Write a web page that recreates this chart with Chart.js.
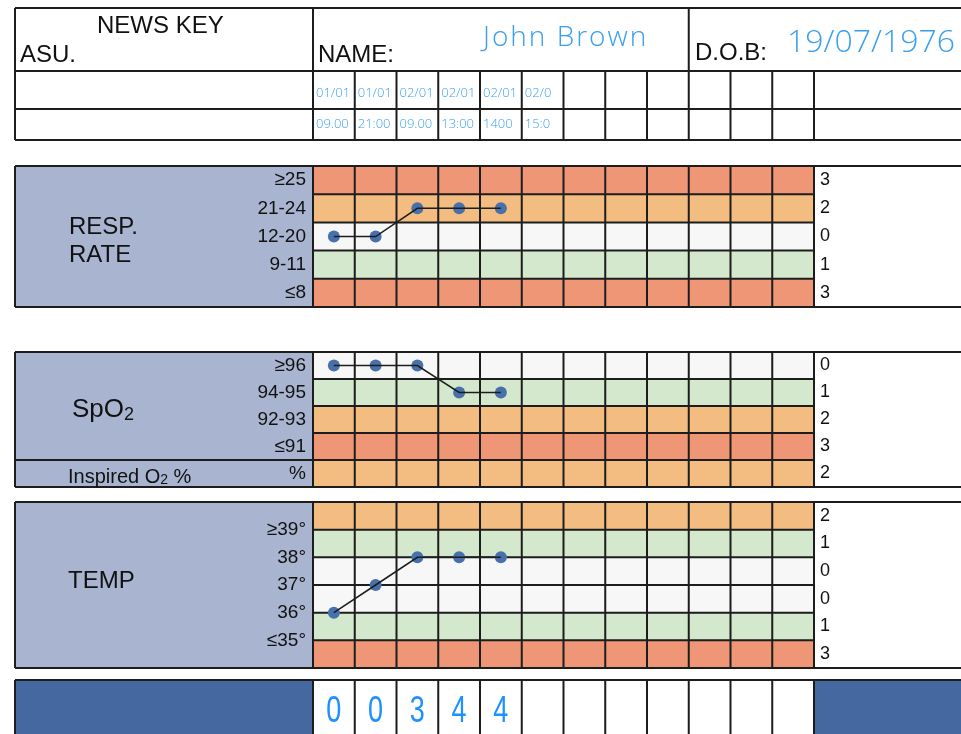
<!DOCTYPE html>
<html>
<head>
<meta charset="utf-8">
<title>NEWS observation chart</title>
<script src="https://cdn.jsdelivr.net/npm/chart.js@4.4.1/dist/chart.umd.min.js"></script>
<style>
  html, body { margin: 0; padding: 0; background: #fff; }
  body { width: 961px; height: 734px; position: relative; overflow: hidden; }
  canvas { position: absolute; left: 0; }
</style>
</head>
<body>
<canvas id="headerChart" width="961" height="145" style="top:0px"></canvas>
<canvas id="respChart" width="961" height="145" style="top:164px"></canvas>
<canvas id="spo2Chart" width="961" height="139" style="top:350px"></canvas>
<canvas id="tempChart" width="961" height="170" style="top:500px"></canvas>
<canvas id="totalChart" width="961" height="56" style="top:678px"></canvas>
<script>
// Patient details
const patientName = 'John Brown';
const patientDob = '19/07/1976';

// Observation slots (12 columns on the form)
const obsDates = ['01/01', '01/01', '02/01', '02/01', '02/01', '02/0', '', '', '', '', '', ''];
const obsTimes = ['09.00', '21:00', '09.00', '13:00', '1400', '15:0', '', '', '', '', '', ''];

// Respiration rate
const respBands = ['≥25', '21-24', '12-20', '9-11', '≤8'];
const respScores = ['3', '2', '0', '1', '3'];
const respValues = ['12-20', '12-20', '21-24', '21-24', '21-24'];

// SpO2
const spo2Bands = ['≥96', '94-95', '92-93', '≤91', '%'];
const spo2Scores = ['0', '1', '2', '3', '2'];
const spo2Values = ['≥96', '≥96', '≥96', '94-95', '94-95'];

// Temperature
const tempTicks = [39, 38, 37, 36, 35];
const tempTickLabels = ['≥39°', '38°', '37°', '36°', '≤35°'];
const tempScores = ['2', '1', '0', '0', '1', '3'];
const tempValues = [36, 37, 38, 38, 38];

// Total score per observation
const newsTotals = [0, 0, 3, 4, 4];

// Colours
const RED = '#ef9677';
const ORANGE = '#f3bc80';
const WHITE = '#f7f7f7';
const GREEN = '#d3e8cd';
const PANEL = '#a9b5d0';
const DARK = '#4668a1';
const LINE = '#1d1d1d';
const DOT = '#4870aa';
const INK = '#3a9fef';
const TOTAL_INK = '#1e90ff';

const SANS = "'Liberation Sans', Arial, sans-serif";
const HAND = "'Open Sans', Lato, sans-serif";
const FRAME_LEFT = 15;

Chart.defaults.font.family = SANS;
Chart.defaults.color = '#111';

// Draw text made of several runs (used for subscripts)
function drawRich(ctx, x, y, parts) {
    parts.forEach(([text, size, dy]) => {
        ctx.font = size + 'px ' + SANS;
        ctx.fillText(text, x, y + (dy || 0));
        x += ctx.measureText(text).width;
    });
}

function strokeLines(ctx, segs) {
    ctx.strokeStyle = LINE;
    ctx.lineWidth = 2;
    ctx.beginPath();
    segs.forEach(([x1, y1, x2, y2]) => { ctx.moveTo(x1, y1); ctx.lineTo(x2, y2); });
    ctx.stroke();
}

// Coloured rows, grid and label panel of a section
const formGrid = {
    id: 'formGrid',
    beforeDraw(chart, args, opts) {
        if (!opts.colors) return;
        const { ctx, chartArea: a, width } = chart;
        const n = opts.colors.length;
        const rowH = (a.bottom - a.top) / n;
        const colW = (a.right - a.left) / obsDates.length;
        ctx.save();
        ctx.fillStyle = PANEL;
        ctx.fillRect(FRAME_LEFT, a.top, a.left - FRAME_LEFT, a.bottom - a.top);
        ctx.fillStyle = '#fff';
        ctx.fillRect(a.right, a.top, width - a.right, a.bottom - a.top);
        opts.colors.forEach((c, i) => {
            ctx.fillStyle = c;
            ctx.fillRect(a.left, a.top + i * rowH, a.right - a.left, rowH);
        });
        const segs = [];
        for (let i = 1; i < n; i++) segs.push([a.left, a.top + i * rowH, a.right, a.top + i * rowH]);
        for (let j = 0; j <= obsDates.length; j++) segs.push([a.left + j * colW, a.top, a.left + j * colW, a.bottom]);
        segs.push([FRAME_LEFT, a.top, width, a.top]);
        segs.push([FRAME_LEFT, a.bottom, width, a.bottom]);
        segs.push([FRAME_LEFT, a.top, FRAME_LEFT, a.bottom]);
        if (opts.splitRow) segs.push([FRAME_LEFT, a.top + opts.splitRow * rowH, a.left, a.top + opts.splitRow * rowH]);
        strokeLines(ctx, segs);
        ctx.fillStyle = '#111';
        ctx.textBaseline = 'alphabetic';
        ctx.textAlign = 'left';
        opts.titles.forEach(t => drawRich(ctx, t.x, a.top + t.y, t.parts));
        ctx.restore();
    }
};

// Header block: patient details, dates and times
const headerFrame = {
    id: 'headerFrame',
    beforeDraw(chart) {
        const { ctx, chartArea: a, width, scales: { x } } = chart;
        const colW = (a.right - a.left) / obsDates.length;
        const segs = [
            [FRAME_LEFT, a.top, width, a.top],
            [FRAME_LEFT, 71, width, 71],
            [FRAME_LEFT, 109, width, 109],
            [FRAME_LEFT, a.bottom, width, a.bottom],
            [FRAME_LEFT, a.top, FRAME_LEFT, a.bottom],
            [a.left, a.top, a.left, a.bottom],
            [a.left + 9 * colW, a.top, a.left + 9 * colW, 71]
        ];
        for (let j = 1; j <= obsDates.length; j++) segs.push([a.left + j * colW, 71, a.left + j * colW, a.bottom]);
        ctx.save();
        strokeLines(ctx, segs);
        ctx.fillStyle = '#111';
        ctx.textAlign = 'left';
        ctx.font = '24px ' + SANS;
        ctx.fillText('NEWS KEY', 97, 33);
        ctx.fillText('ASU.', 20, 62);
        ctx.fillText('NAME:', 318, 62);
        ctx.fillText('D.O.B:', 695, 60);
        ctx.fillStyle = INK;
        ctx.font = '300 28px ' + HAND;
        ctx.letterSpacing = '2px';
        ctx.fillText(patientName, 483, 46);
        ctx.letterSpacing = '0px';
        ctx.font = '300 32px ' + HAND;
        ctx.fillText(patientDob, 787, 52);
        ctx.font = '300 13px ' + HAND;
        obsDates.forEach((d, i) => ctx.fillText(d, x.getPixelForValue(i) - colW / 2 + 3, 97));
        obsTimes.forEach((t, i) => ctx.fillText(t, x.getPixelForValue(i) - colW / 2 + 3, 128));
        ctx.restore();
    }
};

// Bottom row with the total score per observation
const totalRow = {
    id: 'totalRow',
    beforeDraw(chart) {
        const { ctx, chartArea: a, width, scales: { x } } = chart;
        const colW = (a.right - a.left) / obsDates.length;
        ctx.save();
        ctx.fillStyle = DARK;
        ctx.fillRect(FRAME_LEFT, a.top, a.left - FRAME_LEFT, a.bottom - a.top);
        ctx.fillRect(a.right, a.top, width - a.right, a.bottom - a.top);
        const segs = [[FRAME_LEFT, a.top, width, a.top], [FRAME_LEFT, a.top, FRAME_LEFT, a.bottom]];
        for (let j = 0; j <= obsDates.length; j++) segs.push([a.left + j * colW, a.top, a.left + j * colW, a.bottom]);
        strokeLines(ctx, segs);
        ctx.fillStyle = TOTAL_INK;
        ctx.textAlign = 'center';
        ctx.font = '36px ' + SANS;
        newsTotals.forEach((v, i) => {
            ctx.save();
            ctx.translate(x.getPixelForValue(i), a.top + 42);
            ctx.scale(0.75, 1);
            ctx.fillText(String(v), 0, 0);
            ctx.restore();
        });
        ctx.restore();
    }
};

Chart.register(formGrid);

function traceDatasets(values) {
    return [
        { data: values, borderColor: LINE, borderWidth: 1.5, pointRadius: 0, tension: 0, order: 1 },
        { data: values, showLine: false, pointRadius: 6, pointHoverRadius: 6, pointBackgroundColor: DOT, pointBorderWidth: 0, order: 2 }
    ];
}

// Fixed axis widths so every section shares the same columns
function fixWidth(w) {
    return s => { s.width = w; s.paddingTop = 0; s.paddingBottom = 0; };
}

const hiddenGrid = { display: false, drawTicks: false, tickLength: 0 };

function scoreAxis(labels) {
    return {
        type: 'category', position: 'right', labels: labels, offset: true,
        grid: hiddenGrid, border: { display: false },
        ticks: { padding: 6, autoSkip: false, font: { size: 18 }, color: '#111' },
        afterFit: fixWidth(147)
    };
}

function sectionChart(id, values, yAxis, scores, grid) {
    return new Chart(document.getElementById(id), {
        type: 'line',
        data: { labels: obsDates, datasets: traceDatasets(values) },
        options: {
            responsive: false,
            animation: false,
            layout: { autoPadding: false, padding: { left: FRAME_LEFT, right: 0, top: 2, bottom: 2 } },
            plugins: { legend: { display: false }, tooltip: { enabled: false }, formGrid: grid },
            scales: {
                x: { type: 'category', offset: true, display: false },
                y: yAxis,
                score: scoreAxis(scores)
            }
        }
    });
}

function stripOptions(padding) {
    return {
        responsive: false,
        animation: false,
        layout: { autoPadding: false, padding: padding },
        plugins: { legend: { display: false }, tooltip: { enabled: false } },
        scales: {
            x: { type: 'category', offset: true, display: false },
            y: { display: false }
        }
    };
}

// Header
new Chart(document.getElementById('headerChart'), {
    type: 'line',
    data: { labels: obsDates, datasets: [] },
    options: stripOptions({ left: 313, right: 147, top: 8, bottom: 5 }),
    plugins: [headerFrame]
});

// Respiration rate
sectionChart('respChart', respValues, {
    type: 'category', position: 'left', labels: respBands, offset: true,
    grid: hiddenGrid, border: { display: false },
    ticks: { padding: 7, autoSkip: false, font: { size: 19 }, color: '#111' },
    afterFit: fixWidth(298)
}, respScores, {
    colors: [RED, ORANGE, WHITE, GREEN, RED],
    titles: [
        { x: 69, y: 68, parts: [['RESP.', 24]] },
        { x: 69, y: 96, parts: [['RATE', 24]] }
    ]
});

// SpO2
sectionChart('spo2Chart', spo2Values, {
    type: 'category', position: 'left', labels: spo2Bands, offset: true,
    grid: hiddenGrid, border: { display: false },
    ticks: { padding: 7, autoSkip: false, font: { size: 19 }, color: '#111' },
    afterFit: fixWidth(298)
}, spo2Scores, {
    colors: [WHITE, GREEN, ORANGE, RED, ORANGE],
    splitRow: 4,
    titles: [
        { x: 72, y: 65, parts: [['SpO', 26], ['2', 18, 3]] },
        { x: 68, y: 131, parts: [['Inspired O', 20], ['2', 14, 1], [' %', 20]] }
    ]
});

// Temperature
sectionChart('tempChart', tempValues, {
    type: 'linear', position: 'left', min: 34, max: 40,
    grid: hiddenGrid, border: { display: false },
    afterBuildTicks: s => { s.ticks = tempTicks.map(v => ({ value: v })); },
    ticks: {
        padding: 7, autoSkip: false, font: { size: 19 }, color: '#111',
        callback: v => tempTickLabels[tempTicks.indexOf(v)]
    },
    afterFit: fixWidth(298)
}, tempScores, {
    colors: [ORANGE, GREEN, WHITE, WHITE, GREEN, RED],
    titles: [{ x: 68, y: 86, parts: [['TEMP', 24]] }]
});

// Totals
new Chart(document.getElementById('totalChart'), {
    type: 'line',
    data: { labels: obsDates, datasets: [] },
    options: stripOptions({ left: 313, right: 147, top: 2, bottom: 0 }),
    plugins: [totalRow]
});
</script>
</body>
</html>
